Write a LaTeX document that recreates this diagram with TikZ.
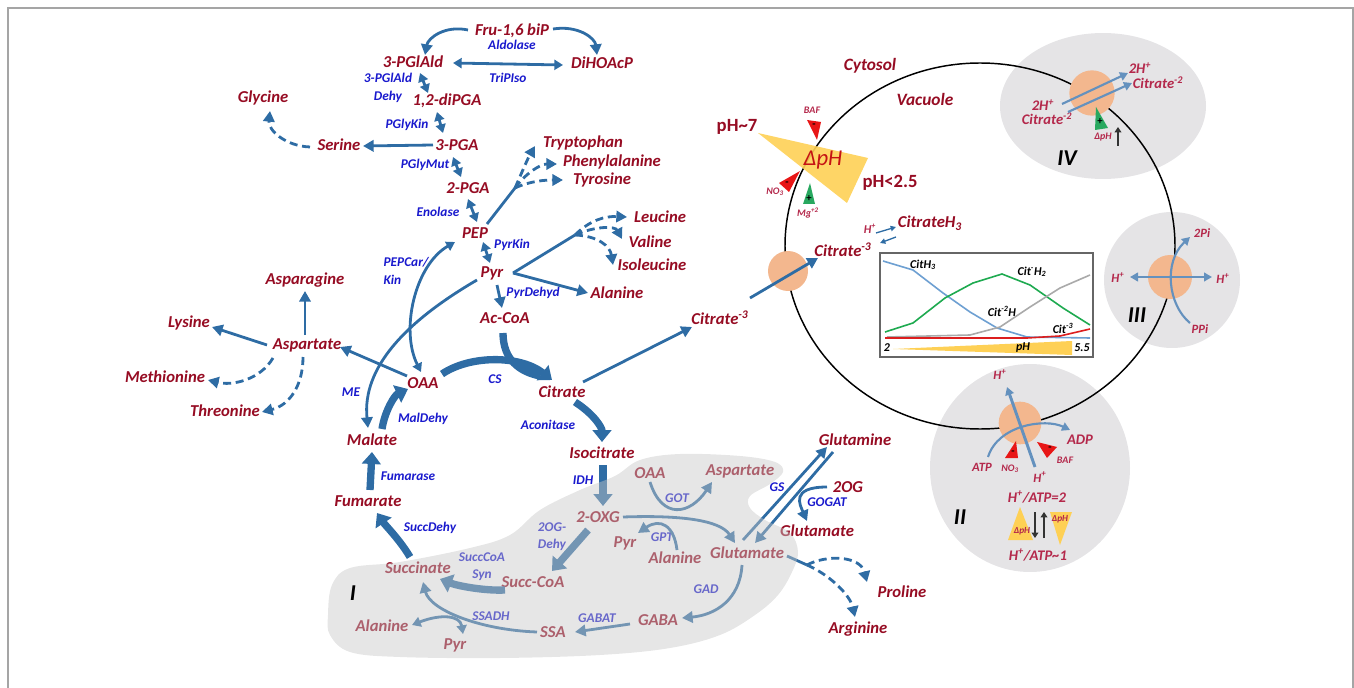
\documentclass[tikz,border=0pt]{standalone}
\usepackage{fontspec}
\setmainfont{Carlito}
\usetikzlibrary{arrows.meta,calc}
\definecolor{MetRed}{RGB}{150,12,35}
\definecolor{EnzBlue}{RGB}{25,25,205}
\definecolor{ArrBlue}{RGB}{46,108,164}
\definecolor{RegBlue}{RGB}{100,145,190}
\definecolor{RegRed}{RGB}{180,40,75}
\definecolor{RegGray}{RGB}{229,228,230}
\definecolor{PumpOrange}{RGB}{243,183,142}
\definecolor{PHYellow}{RGB}{254,208,85}
\definecolor{InhRed}{RGB}{232,22,22}
\definecolor{ActGreen}{RGB}{40,168,95}
\definecolor{FrameGray}{RGB}{165,165,165}
\definecolor{CitBlue}{RGB}{110,160,210}
\definecolor{CitGreen}{RGB}{30,170,80}
\definecolor{CitGray}{RGB}{170,170,170}
\definecolor{CitRed}{RGB}{220,30,30}
\newcommand{\metfont}{\fontsize{12.5}{14}\selectfont\bfseries\itshape}
\newcommand{\enzfont}{\fontsize{10}{13}\selectfont\bfseries\itshape}
\newcommand{\regfont}{\fontsize{11}{12}\selectfont\bfseries\itshape}
\newcommand{\smlfont}{\fontsize{7.5}{8}\selectfont\bfseries\itshape}
\newcommand{\chtfont}{\fontsize{9}{10}\selectfont\bfseries\itshape}
\newcommand{\romfont}{\fontsize{17}{18}\selectfont\bfseries\itshape}
\begin{document}
\begin{tikzpicture}[x=0.75pt,y=-0.75pt,
    met/.style={text=MetRed,font=\metfont,inner sep=1pt},
    enz/.style={text=EnzBlue,font=\enzfont,inner sep=1pt,align=center},
    reg/.style={text=RegRed,font=\regfont,inner sep=1pt},
    regs/.style={text=RegRed,font=\fontsize{9.5}{10}\selectfont\bfseries\itshape,inner sep=1pt},
    sml/.style={text=RegRed,font=\smlfont,inner sep=0.5pt},
    cht/.style={text=black,font=\chtfont,inner sep=1pt},
    roman/.style={text=black,font=\romfont},
    sgn/.style={text=black,font=\fontsize{8}{8}\selectfont\bfseries,inner sep=0pt},
    pump/.style={circle,fill=PumpOrange,inner sep=0pt},
    ln/.style={ArrBlue,line width=2.1pt},
    arr/.style={ln,-{Triangle[length=8pt,width=8.5pt]}},
    darr/.style={ln,{Triangle[length=6.5pt,width=7.5pt]}-{Triangle[length=6.5pt,width=7.5pt]}},
    dsh/.style={arr,dash pattern=on 6pt off 3.5pt},
    thk/.style={ArrBlue,line width=5.5pt,-{Triangle[length=9pt,width=14pt]}},
    rarr/.style={RegBlue,line width=1.6pt,-{Triangle[length=6pt,width=6.5pt]}},
    sarr/.style={ArrBlue,line width=1pt,-{Triangle[length=4pt,width=4pt]}},
    blk/.style={black!80,line width=1.6pt,-{Triangle[length=4pt,width=5pt]}}]
  \useasboundingbox (0,0) rectangle (1354,688);
  \draw[FrameGray,line width=1.2pt] (8,688) -- (8,8) -- (1353,8) -- (1353,688);

  % vacuole side
  \fill[RegGray] (1103,106) ellipse [x radius=77.25pt,y radius=54.75pt];
  \fill[RegGray] (1172,280) circle [radius=51pt];
  \fill[RegGray] (1030,468) ellipse [x radius=75pt,y radius=78pt];
  \draw[black,line width=1.1pt] (980,246) ellipse [x radius=146.25pt,y radius=137.25pt];
  \fill[PHYellow,opacity=0.9] (758,133) -- (868,158) -- (847,203) -- cycle;
  \node[pump,minimum size=30pt] (tcit) at (788,271) {};
  \node[pump,minimum size=34pt] (tiv) at (1092,93) {};
  \node[pump,minimum size=33pt] (tiii) at (1170,277) {};
  \node[pump,minimum size=32pt] (tii) at (1020,423) {};

  \node[text=MetRed,font=\fontsize{13}{14}\selectfont\bfseries\itshape] (cyto) at (870,66) {Cytosol};
  \node[text=MetRed,font=\fontsize{13}{14}\selectfont\bfseries\itshape] (vac) at (925,99) {Vacuole};
  \node[text=MetRed,font=\fontsize{14}{15}\selectfont\bfseries] (ph7) at (737,127) {pH\textasciitilde 7};
  \node[text=MetRed,font=\fontsize{14}{15}\selectfont\bfseries] (ph25) at (890,183) {pH<2.5};
  \node[text=InhRed!85!black,font=\fontsize{17}{18}\selectfont\itshape] (dph) at (823,160) {ΔpH};
  \fill[InhRed] (807,120) -- (821,122) -- (817,140) -- cycle;
  \node[sgn] (baf1) at (814,126) {-};
  \node[sml] (baflbl) at (812,110) {BAF};
  \fill[InhRed] (779,183) -- (789,192) -- (800,171) -- cycle;
  \node[sgn] (no1) at (787,184) {-};
  \node[sml] (nolbl) at (775,192) {NO\textsubscript{3}};
  \fill[ActGreen] (810,183) -- (803,204) -- (815,204) -- cycle;
  \node[sgn] (mg1) at (809,199) {+};
  \node[sml] (mglbl) at (808,213) {Mg\textsuperscript{+2}};

  \node[sml,font=\fontsize{9}{10}\selectfont\bfseries\itshape] (hplus) at (870,229) {H\textsuperscript{+}};
  \node[met] (cith3) at (930,223) {CitrateH\textsubscript{3}};
  \node[met] (citv) at (843,250) {Citrate\textsuperscript{-3}};
  \draw[sarr] ($(hplus)+(6,4)$) -- ($(cith3)+(-34,4)$);
  \draw[sarr] ($(cith3)+(-34,14)$) -- ($(citv)+(37,-7)$);

  % titration chart
  \draw[black!60,line width=1pt,fill=white] (880,253) rectangle (1093,357);
  \fill[PHYellow] (893,349) -- (1072,341) -- (1072,355) -- cycle;
  \draw[CitBlue,line width=1.2pt] (883,261) -- (913,270) -- (943,293) -- (970,312) -- (997,328) -- (1027,337) -- (1090,338);
  \draw[CitGreen,line width=1.2pt] (885,332) -- (913,323) -- (945,298) -- (973,283) -- (1002,274) -- (1030,285) -- (1063,308) -- (1090,325);
  \draw[CitGray,line width=1.2pt] (887,337) -- (970,335) -- (1000,327) -- (1030,307) -- (1060,288) -- (1090,275);
  \draw[CitRed,line width=1.2pt] (885,338) -- (1027,338) -- (1060,336) -- (1090,329);
  \node[cht] (lh3) at (923,265) {CitH\textsubscript{3}};
  \node[cht] (lh2) at (1032,272) {Cit\textsuperscript{-}H\textsubscript{2}};
  \node[cht] (lh1) at (1002,311) {Cit\textsuperscript{-2}H};
  \node[cht] (lh0) at (1063,328) {Cit\textsuperscript{-3}};
  \node[cht] (ax2) at (887,348) {2};
  \node[cht] (axph) at (1023,348) {pH};
  \node[cht] (ax55) at (1082,348) {5.5};

  % IV
  \node[reg] (h2in) at (1043,105) {2H\textsuperscript{+}};
  \node[reg] (c2in) at (1047,119) {Citrate\textsuperscript{-2}};
  \node[reg] (h2out) at (1140,68) {2H\textsuperscript{+}};
  \node[reg] (c2out) at (1158,83) {Citrate\textsuperscript{-2}};
  \draw[rarr] ($(h2in)+(19,-1)$) -- ($(h2out)+(-12,5)$);
  \draw[rarr] ($(c2in)+(21,-7)$) -- ($(c2out)+(-26,0)$);
  \fill[ActGreen] (1096,107) -- (1095,130) -- (1108,128) -- cycle;
  \node[sgn] (ivp) at (1100,122) {+};
  \node[sml] (ivdph) at (1103,137) {ΔpH};
  \draw[blk] (1118,146) -- (1118,127);
  \node[roman] (niv) at (1067,158) {IV};

  % III
  \node[regs] (hl) at (1118,278) {H\textsuperscript{+}};
  \node[regs] (hr) at (1223,279) {H\textsuperscript{+}};
  \node[regs] (pi2) at (1202,233) {2Pi};
  \node[regs] (ppi) at (1200,329) {PPi};
  \draw[rarr,{Triangle[length=6pt,width=6.5pt]}-{Triangle[length=6pt,width=6.5pt]}] ($(hl)+(12,-1)$) -- ($(hr)+(-11,-2)$);
  \draw[rarr] ($(ppi)+(-10,-6)$) .. controls (1168,305) and (1163,262) .. ($(pi2)+(-12,4)$);
  \node[roman] (niii) at (1137,315) {III};

  % II
  \node[regs] (ht) at (1000,375) {H\textsuperscript{+}};
  \node[regs] (hb) at (1040,477) {H\textsuperscript{+}};
  \node[regs] (atp) at (982,467) {ATP};
  \node[reg] (adp) at (1080,440) {ADP};
  \draw[rarr] ($(atp)+(6,-10)$) .. controls (998,425) and (1045,418) .. ($(adp)+(-10,-10)$);
  \draw[rarr,line width=2.2pt] ($(hb)+(-5,-10)$) -- ($(ht)+(7,12)$);
  \fill[InhRed] (1005,458) -- (1018,458) -- (1016,441) -- cycle;
  \node[sgn] (iim1) at (1013,453) {-};
  \fill[InhRed] (1037,442) -- (1047,458) -- (1057,447) -- cycle;
  \node[sgn] (iim2) at (1050,449) {-};
  \node[sml] (iino) at (1010,469) {NO\textsubscript{3}};
  \node[sml] (iibaf) at (1065,460) {BAF};
  \node[reg] (r2) at (1037,497) {H\textsuperscript{+}/ATP=2};
  \node[reg] (r1) at (1038,555) {H\textsuperscript{+}/ATP\textasciitilde 1};
  \fill[PHYellow] (1008,540) -- (1033,540) -- (1020,507) -- cycle;
  \fill[PHYellow] (1050,512) -- (1072,512) -- (1060,545) -- cycle;
  \node[sml,font=\fontsize{7}{7}\selectfont\bfseries\itshape] (iid1) at (1022,531) {ΔpH};
  \node[sml,font=\fontsize{7}{7}\selectfont\bfseries\itshape] (iid2) at (1060,519) {ΔpH};
  \draw[blk] (1035,512) -- (1035,538);
  \draw[blk] (1044,538) -- (1044,512);
  \node[roman] (nii) at (960,517) {II};

  % cytosol metabolites
  \node[met] (fru) at (512,31) {Fru-1,6 biP};
  \node[met] (pglald) at (413,62) {3-PGlAld};
  \node[met] (dihoacp) at (602,63) {DiHOAcP};
  \node[met] (dipga) at (447,101) {1,2-diPGA};
  \node[met] (gly) at (263,98) {Glycine};
  \node[met] (ser) at (339,145) {Serine};
  \node[met] (pga3) at (457,145) {3-PGA};
  \node[met] (pga2) at (468,188) {2-PGA};
  \node[met] (trp) at (583,143) {Tryptophan};
  \node[met] (phe) at (612,162) {Phenylalanine};
  \node[met] (tyr) at (602,180) {Tyrosine};
  \node[met] (pep) at (475,233) {PEP};
  \node[met] (pyr) at (492,273) {Pyr};
  \node[met] (leu) at (660,217) {Leucine};
  \node[met] (val) at (650,242) {Valine};
  \node[met] (ile) at (652,265) {Isoleucine};
  \node[met] (ala) at (617,293) {Alanine};
  \node[met] (accoa) at (505,318) {Ac-CoA};
  \node[met] (asn) at (305,280) {Asparagine};
  \node[met] (lys) at (189,323) {Lysine};
  \node[met] (asp) at (307,345) {Aspartate};
  \node[met] (meth) at (165,377) {Methionine};
  \node[met] (thr) at (225,411) {Threonine};
  \node[met] (oaa) at (423,383) {OAA};
  \node[met] (cit) at (562,392) {Citrate};
  \node[met] (cit3) at (720,318) {Citrate\textsuperscript{-3}};
  \node[met] (mal) at (372,440) {Malate};
  \node[met] (isocit) at (602,453) {Isocitrate};
  \node[met] (fum) at (368,501) {Fumarate};
  \node[met] (gln) at (855,440) {Glutamine};
  \node[met] (og) at (848,487) {2OG};
  \node[met] (glub) at (817,531) {Glutamate};
  \node[met] (pro) at (902,592) {Proline};
  \node[met] (arg) at (858,629) {Arginine};
  \node[met] (oaab) at (650,473) {OAA};
  \node[met] (aspb) at (740,471) {Aspartate};
  \node[met] (oxg) at (598,517) {2-OXG};
  \node[met] (pyrb) at (625,543) {Pyr};
  \node[met] (alab) at (675,558) {Alanine};
  \node[met] (glu) at (747,553) {Glutamate};
  \node[met] (succ) at (418,568) {Succinate};
  \node[met] (scoa) at (533,582) {Succ-CoA};
  \node[met] (alac) at (382,626) {Alanine};
  \node[met] (pyrc) at (455,645) {Pyr};
  \node[met] (ssa) at (553,632) {SSA};
  \node[met] (gaba) at (658,620) {GABA};

  % enzymes
  \node[enz] (aldo) at (512,45) {Aldolase};
  \node[enz] (tpi) at (508,78) {TriPIso};
  \node[enz] (gapdh) at (388,88) {3-PGlAld\\Dehy};
  \node[enz] (pgk) at (407,125) {PGlyKin};
  \node[enz] (pgm) at (425,165) {PGlyMut};
  \node[enz] (eno) at (438,212) {Enolase};
  \node[enz] (pk) at (512,245) {PyrKin};
  \node[enz] (pdh) at (533,293) {PyrDehyd};
  \node[enz,anchor=west,align=left] (pepc) at (382,271) {PEPCar/\\Kin};
  \node[enz] (cs) at (495,379) {CS};
  \node[enz] (me) at (351,392) {ME};
  \node[enz] (mdh) at (423,419) {MalDehy};
  \node[enz] (aco) at (548,425) {Aconitase};
  \node[enz] (fumase) at (408,476) {Fumarase};
  \node[enz] (idh) at (583,480) {IDH};
  \node[enz] (sdh) at (430,528) {SuccDehy};
  \node[enz] (ogdh) at (552,537) {2OG-\\Dehy};
  \node[enz] (scs) at (482,567) {SuccCoA\\Syn};
  \node[enz] (got) at (677,498) {GOT};
  \node[enz] (gpt) at (662,537) {GPT};
  \node[enz] (ssadh) at (491,616) {SSADH};
  \node[enz] (gabat) at (597,618) {GABAT};
  \node[enz] (gad) at (706,589) {GAD};
  \node[enz] (gs) at (777,487) {GS};
  \node[enz] (gogat) at (827,502) {GOGAT};

  \coordinate (aab) at (515,188);
  \coordinate (bcb) at (575,235);
  \coordinate (gpb) at (807,565);

  % glycolysis
  \draw[arr] ($(fru)+(-44,-1)$) .. controls (445,25) and (428,38) .. ($(pglald)+(12,-7)$);
  \draw[arr] ($(fru)+(41,-2)$) .. controls (578,25) and (595,38) .. ($(dihoacp)+(-5,-8)$);
  \draw[darr] ($(pglald)+(40,1)$) -- ($(dihoacp)+(-39,2)$);
  \draw[darr] ($(pglald)+(7,11)$) -- ($(dipga)+(-19,-8)$);
  \draw[darr] ($(dipga)+(-10,11)$) -- ($(pga3)+(-14,-12)$);
  \draw[arr] ($(pga3)+(-24,0)$) -- ($(ser)+(24,1)$);
  \draw[dsh] ($(ser)+(-29,2)$) .. controls (285,146) and (268,130) .. ($(gly)+(7,13)$);
  \draw[darr] ($(pga3)+(-4,12)$) -- ($(pga2)+(-7,-11)$);
  \draw[darr] ($(pga2)+(0,11)$) -- ($(pep)+(2,-11)$);
  \draw[ln] ($(pep)+(12,-9)$) -- (aab);
  \draw[dsh] (aab) .. controls (522,172) and (528,158) .. ($(trp)+(-48,3)$);
  \draw[dsh] (aab) .. controls (525,174) and (540,164) .. ($(phe)+(-55,2)$);
  \draw[dsh] (aab) .. controls (530,181) and (545,180) .. ($(tyr)+(-39,0)$);
  \draw[darr] ($(pep)+(8,9)$) -- ($(pyr)+(-2,-10)$);
  \draw[arr] ($(pyr)+(5,12)$) -- ($(accoa)+(-3,-10)$);
  \draw[ln] ($(pyr)+(21,0)$) -- (bcb);
  \draw[dsh] (bcb) .. controls (590,220) and (605,216) .. ($(leu)+(-33,0)$);
  \draw[dsh] (bcb) .. controls (595,226) and (615,226) .. ($(val)+(-28,-3)$);
  \draw[dsh] (bcb) .. controls (598,236) and (610,246) .. ($(ile)+(-39,0)$);
  \draw[arr] ($(pyr)+(21,0)$) -- ($(ala)+(-29,0)$);

  % aspartate family and anaplerosis
  \draw[arr] ($(oaa)+(-16,-7)$) -- ($(asp)+(33,2)$);
  \draw[arr] ($(asp)+(-2,-10)$) -- ($(asn)+(0,11)$);
  \draw[arr] ($(asp)+(-40,0)$) -- ($(lys)+(23,4)$);
  \draw[dsh] ($(asp)+(-34,13)$) .. controls (260,380) and (232,386) .. ($(meth)+(43,3)$);
  \draw[dsh] ($(asp)+(-4,12)$) .. controls (303,385) and (290,405) .. ($(thr)+(37,1)$);
  \draw[darr] ($(pep)+(-20,9)$) .. controls (415,265) and (400,330) .. ($(oaa)+(-2,-11)$);
  \draw[arr] ($(pyr)+(-15,7)$) .. controls (405,322) and (362,368) .. ($(mal)+(-4,-12)$);

  % TCA
  \draw[ArrBlue,line width=5.5pt] ($(accoa)+(-2,15)$) .. controls (503,360) and (520,372) .. ($(cit)+(-22,-16)$);
  \draw[thk] ($(oaa)+(19,-9)$) .. controls (470,355) and (520,355) .. ($(cit)+(-10,-12)$);
  \draw[arr] ($(cit)+(21,-10)$) -- ($(cit3)+(-28,9)$);
  \draw[arr] ($(cit3)+(30,-20)$) -- ($(tcit)+(30,-13)$);
  \draw[thk] ($(cit)+(13,10)$) .. controls (595,415) and (602,428) .. ($(isocit)+(0,-11)$);
  \draw[thk] ($(isocit)+(1,12)$) -- ($(oxg)+(5,-11)$);
  \draw[thk] ($(oxg)+(-10,13)$) -- ($(scoa)+(19,-11)$);
  \draw[thk] ($(scoa)+(-28,8)$) .. controls (485,591) and (458,586) .. ($(succ)+(22,11)$);
  \draw[thk] ($(succ)+(-8,-11)$) .. controls (400,540) and (385,525) .. ($(fum)+(9,12)$);
  \draw[thk] ($(fum)+(2,-11)$) -- ($(mal)+(0,12)$);
  \draw[thk] ($(mal)+(10,-11)$) .. controls (385,410) and (395,395) .. ($(oaa)+(-15,6)$);

  % GABA shunt and amino acids
  \draw[arr] ($(ssa)+(-16,0)$) .. controls (480,630) and (430,610) .. ($(succ)+(5,14)$);
  \draw[darr] ($(alac)+(30,-1)$) .. controls (440,614) and (460,615) .. ($(pyrc)+(8,-11)$);
  \draw[arr] ($(gaba)+(-28,4)$) -- ($(ssa)+(22,0)$);
  \draw[arr] ($(glu)+(-5,12)$) .. controls (740,600) and (715,615) .. ($(gaba)+(24,-2)$);
  \draw[arr] ($(oaab)+(0,9)$) .. controls (662,520) and (690,515) .. ($(aspb)+(-28,11)$);
  \draw[arr] ($(alab)+(2,-8)$) .. controls (674,525) and (660,518) .. ($(pyrb)+(13,-10)$);
  \draw[arr] ($(oxg)+(25,0)$) .. controls (680,515) and (720,520) .. ($(glu)+(-12,-10)$);
  \draw[arr] ($(glu)+(-4,-13)$) -- ($(gln)+(-28,7)$);
  \draw[arr] ($(gln)+(-22,12)$) -- ($(glu)+(8,-10)$);
  \draw[arr] ($(og)+(-21,0)$) .. controls (790,487) and (800,505) .. ($(glub)+(-10,-10)$);
  \draw[ln] ($(glu)+(40,3)$) -- (gpb);
  \draw[dsh] (gpb) .. controls (825,555) and (860,555) .. ($(pro)+(-35,-10)$);
  \draw[dsh] (gpb) .. controls (830,575) and (850,595) .. ($(arg)+(-3,-12)$);

  % mitochondrial region I
  \fill[black!22,fill opacity=0.45] plot[smooth cycle,tension=0.6] coordinates {
    (328,615) (332,585) (350,568) (400,562) (470,548) (510,535) (540,510)
    (580,490) (615,476) (640,460) (680,454) (740,456) (775,462) (783,472)
    (770,484) (750,496) (750,508) (765,520) (790,533) (798,552) (792,572)
    (778,595) (755,615) (720,635) (670,648) (600,655) (500,658) (400,657)
    (350,652) (330,635)};
  \node[roman] (ni) at (353,593) {I};
\end{tikzpicture}
\end{document}
